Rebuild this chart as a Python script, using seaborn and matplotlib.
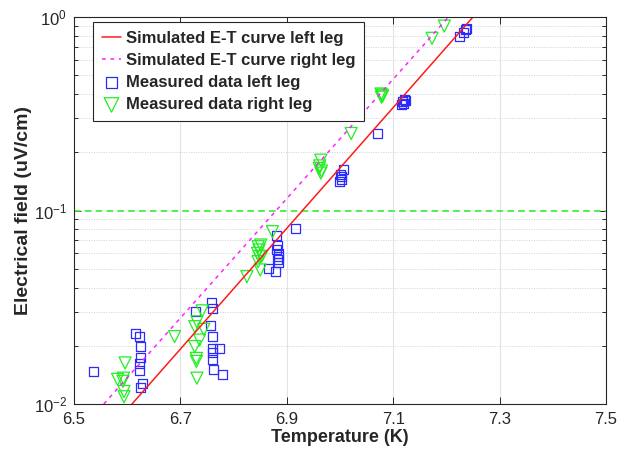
import matplotlib
matplotlib.use("Agg")
import matplotlib.pyplot as plt
import seaborn as sns
from matplotlib.ticker import LogLocator, NullFormatter, FixedLocator

# Simulated E-T curves: straight lines on the log axis, given by their end points
sim_left_T = [6.609, 7.250]
sim_left_E = [0.01, 1.0]
sim_right_T = [6.556, 7.204]
sim_right_E = [0.01, 1.0]

# Measured data, left leg
left_T = [6.536,
          6.616, 6.623, 6.625, 6.625, 6.624, 6.623, 6.628, 6.625,
          6.759, 6.761, 6.728, 6.757, 6.761, 6.761, 6.773, 6.761, 6.761, 6.762, 6.780,
          6.917, 6.881, 6.883, 6.881, 6.885, 6.885, 6.883, 6.885, 6.865, 6.879,
          7.002, 7.007, 6.999, 7.003, 7.001,
          7.071,
          7.118, 7.121, 7.115, 7.123, 7.119,
          7.235, 7.232, 7.225, 7.237]
left_E = [0.0147,
          0.0232, 0.0223, 0.0199, 0.0174, 0.0161, 0.0149, 0.0128, 0.0121,
          0.0334, 0.0312, 0.0300, 0.0253, 0.0223, 0.0194, 0.0194, 0.0184, 0.0169, 0.0151, 0.0142,
          0.0809, 0.0747, 0.0663, 0.0625, 0.0601, 0.0577, 0.0555, 0.0538, 0.0503, 0.0483,
          0.1496, 0.1630, 0.1410, 0.1450, 0.1530,
          0.250,
          0.365, 0.376, 0.351, 0.370, 0.358,
          0.857, 0.830, 0.797, 0.874]

# Measured data, right leg
right_T = [6.596, 6.582, 6.593, 6.592, 6.594, 6.594,
           6.689,
           6.741, 6.731, 6.727, 6.744, 6.736, 6.727, 6.730, 6.730, 6.731,
           6.851, 6.846, 6.848, 6.845, 6.848, 6.846, 6.850, 6.825, 6.873, 6.853,
           6.964, 6.961, 6.964, 6.962, 6.965,
           7.021,
           7.079, 7.078, 7.080, 7.077,
           7.196, 7.173]
right_E = [0.0163, 0.0134, 0.0136, 0.0131, 0.0116, 0.0109,
           0.0223,
           0.0303, 0.0266, 0.0251, 0.0243, 0.0214, 0.0198, 0.0172, 0.0166, 0.0136,
           0.0663, 0.0650, 0.0625, 0.0601, 0.0577, 0.0544, 0.0493, 0.0455, 0.0777, 0.0580,
           0.182, 0.165, 0.156, 0.170, 0.160,
           0.250,
           0.395, 0.385, 0.390, 0.400,
           0.898, 0.776]

# Electric field criterion
criterion_E = 0.1

x_ticks = [6.5, 6.7, 6.9, 7.1, 7.3, 7.5]

sns.set_style("ticks")
plt.rcParams['font.family'] = ['Liberation Sans', 'DejaVu Sans']
plt.rcParams['mathtext.fontset'] = 'custom'
plt.rcParams['mathtext.rm'] = 'Liberation Sans'
plt.rcParams['mathtext.it'] = 'Liberation Sans'

fig = plt.figure(figsize=(6.31, 4.57), dpi=100)
ax = fig.add_axes([74 / 631, 1 - 404 / 457, 532 / 631, 387 / 457])

ax.set_yscale('log')

# grid: solid vertical lines at major x ticks, dotted horizontal lines at minor y ticks
for t in x_ticks[1:-1]:
    ax.axvline(t, color='#e3e3e3', lw=0.8, zorder=0)
ax.yaxis.set_minor_locator(LogLocator(base=10, subs=range(2, 10)))
ax.grid(True, axis='y', which='minor', color='#d0d0d0', ls=(0, (1, 1.5)), lw=0.7, zorder=0)

ax.axhline(criterion_E, color='#33ee33', ls=(0, (4, 2.5)), lw=1.2, zorder=1.5)

sns.lineplot(x=sim_left_T, y=sim_left_E, ax=ax, color='#ff1a1a', lw=1.1,
             estimator=None, sort=False, label='Simulated E-T curve left leg')
sns.lineplot(x=sim_right_T, y=sim_right_E, ax=ax, color='#ff22ff', lw=1.1,
             linestyle=(0, (2.5, 3)), estimator=None, sort=False,
             label='Simulated E-T curve right leg')
sns.scatterplot(x=left_T, y=left_E, ax=ax, marker='s', s=42,
                facecolors='none', edgecolors='#2b2bff', linewidths=0.9,
                label='Measured data left leg', zorder=1.8)
sns.scatterplot(x=right_T, y=right_E, ax=ax, marker='v', s=75,
                facecolors='none', edgecolors='#22ee22', linewidths=0.9,
                label='Measured data right leg', zorder=1.8)

ax.set_xlim(6.5, 7.5)
ax.set_ylim(0.01, 1.0)
ax.xaxis.set_major_locator(FixedLocator(x_ticks))
ax.set_xticklabels([f"{t:.1f}" for t in x_ticks])
ax.yaxis.set_major_locator(LogLocator(base=10, numticks=5))
ax.yaxis.set_minor_formatter(NullFormatter())

ax.tick_params(which='both', direction='in', top=True, right=True,
               colors='#262626', labelsize=12, width=0.7)
ax.tick_params(which='major', length=5)
ax.tick_params(which='minor', length=3)
ax.tick_params(axis='x', pad=6)
ax.tick_params(axis='y', pad=5)
for sp in ax.spines.values():
    sp.set_color('#262626')
    sp.set_linewidth(0.8)

ax.set_xlabel('Temperature (K)', fontsize=13, fontweight='bold', labelpad=1)
ax.set_ylabel('Electrical field (uV/cm)', fontsize=14, fontweight='bold', labelpad=1)

leg = ax.legend(loc='upper left', bbox_to_anchor=(0.036, 0.988),
                prop={'weight': 'bold', 'size': 12}, handlelength=1.1,
                handletextpad=0.3, labelspacing=0.43, borderpad=0.55,
                borderaxespad=0, fancybox=False, framealpha=1, markerscale=1.2)
leg.get_frame().set_edgecolor('#262626')
leg.get_frame().set_linewidth(0.8)

fig.savefig('out.png', dpi=100)
